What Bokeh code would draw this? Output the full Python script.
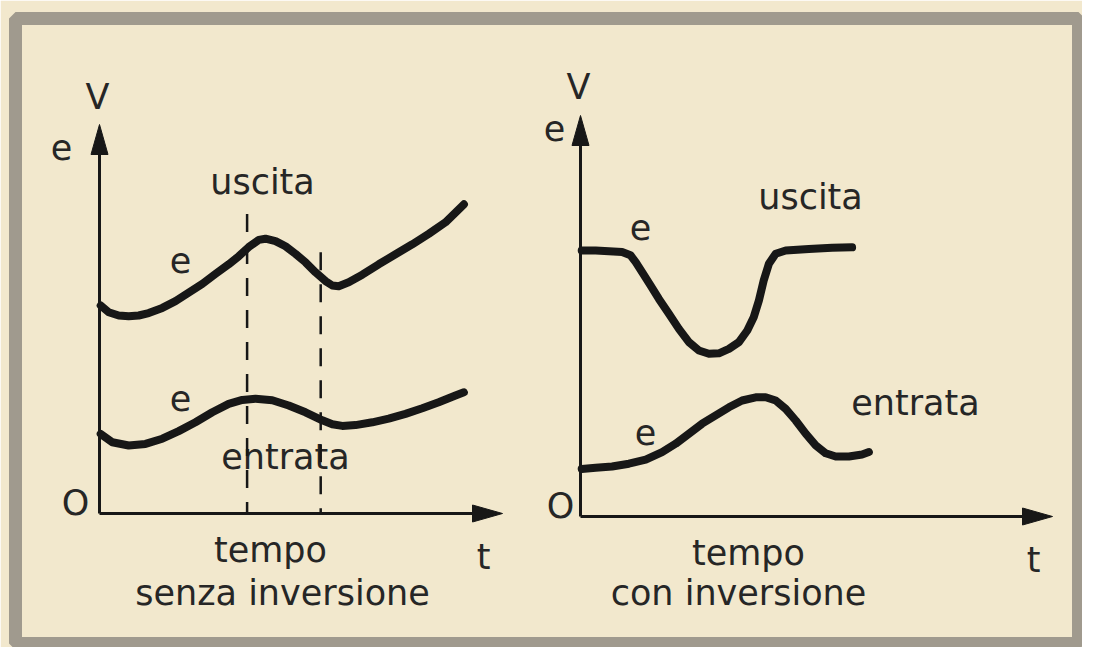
from bokeh.plotting import figure
from bokeh.models import Range1d, ColumnDataSource
from bokeh.core.properties import value
from bokeh.embed import file_html
from bokeh.resources import INLINE

# ---------------- data (panel units: t horizontal, V vertical) ----------------
# Left panel: "senza inversione"
L_USCITA_T = [0.03, 0.23, 0.48, 0.73, 0.98, 1.23, 1.57, 1.9, 2.23, 2.57, 2.9, 3.23, 3.48, 3.73,
              3.98, 4.15, 4.4, 4.65, 4.9, 5.15, 5.4, 5.65, 5.82, 5.98, 6.23, 6.57, 6.98, 7.4,
              7.82, 8.23, 8.65, 9.11]
L_USCITA_V = [5.2, 5.03, 4.95, 4.93, 4.95, 5.01, 5.14, 5.31, 5.52, 5.74, 5.99, 6.23, 6.43, 6.66,
              6.84, 6.87, 6.81, 6.68, 6.49, 6.28, 6.03, 5.81, 5.7, 5.68, 5.78, 5.97, 6.23, 6.48,
              6.73, 6.99, 7.28, 7.73]
L_ENTRATA_T = [0.03, 0.32, 0.73, 1.15, 1.57, 1.98, 2.4, 2.82, 3.23, 3.57, 3.9, 4.32, 4.73, 5.15,
               5.57, 5.82, 6.07, 6.4, 6.82, 7.23, 7.65, 8.07, 8.48, 8.9, 9.11]
L_ENTRATA_V = [1.99, 1.78, 1.7, 1.74, 1.87, 2.06, 2.28, 2.53, 2.74, 2.84, 2.87, 2.83, 2.7, 2.53,
               2.33, 2.23, 2.19, 2.21, 2.28, 2.37, 2.49, 2.63, 2.78, 2.95, 3.03]
L_MARK_T = [3.69, 5.53]        # dashed time markers
L_MARK_TOP = [7.49, 6.53]
L_AXIS_END_T = 10.075
L_AXIS_END_V = 9.725

# Right panel: "con inversione"
R_USCITA_T = [0.03, 0.38, 0.71, 1.04, 1.25, 1.38, 1.54, 1.75, 1.96, 2.21, 2.46, 2.71, 2.96, 3.21,
              3.46, 3.71, 3.96, 4.17, 4.33, 4.46, 4.58, 4.71, 4.88, 5.13, 5.71, 6.29, 6.79]
R_USCITA_V = [6.65, 6.65, 6.63, 6.61, 6.53, 6.36, 6.11, 5.78, 5.44, 5.07, 4.69, 4.36, 4.15, 4.07,
              4.08, 4.19, 4.36, 4.65, 4.98, 5.4, 5.9, 6.32, 6.57, 6.65, 6.69, 6.72, 6.73]
R_ENTRATA_T = [0.03, 0.38, 0.79, 1.21, 1.63, 2.04, 2.38, 2.71, 3.04, 3.38, 3.71, 4.04, 4.38, 4.63,
               4.88, 5.13, 5.38, 5.63, 5.88, 6.13, 6.38, 6.71, 7.04, 7.21]
R_ENTRATA_V = [1.19, 1.22, 1.25, 1.32, 1.42, 1.61, 1.82, 2.07, 2.32, 2.53, 2.73, 2.9, 2.98, 2.98,
               2.9, 2.69, 2.4, 2.07, 1.78, 1.58, 1.5, 1.5, 1.55, 1.61]
R_AXIS_END_T = 11.8
R_AXIS_END_V = 10.025

# Labels (x centre, text baseline)
L_LABEL_TEXT = ["V", "e", "O", "uscita", "e", "e", "entrata", "tempo", "senza inversione", "t"]
L_LABEL_T = [-0.05, -0.95, -0.6, 4.075, 2.025, 2.025, 4.65, 4.275, 4.575, 9.6]
L_LABEL_V = [10.15, 8.9, 0.0, 8.025, 6.075, 2.625, 1.15, -1.175, -2.25, -1.35]

R_LABEL_TEXT = ["V", "e", "O", "uscita", "e", "e", "entrata", "tempo", "con inversione", "t"]
R_LABEL_T = [-0.05, -0.65, -0.5, 5.75, 1.5, 1.625, 8.375, 4.2, 3.95, 11.325]
R_LABEL_V = [10.475, 9.45, 0.0, 7.725, 6.975, 1.85, 2.575, -1.175, -2.175, -1.35]

# ---------------- layout / style ----------------
BEIGE = "#f2e8cd"
GRAY = "#a09a8e"
INK = "#171717"
TEXT = "#262626"
FONT = value("DejaVu Sans")

W, H = 1082, 647
MB_L, MB_R, MB_T, MB_B = 15, 4, 18, 4
FRAME_W = W - MB_L - MB_R
FRAME_H = H - MB_T - MB_B
PX = 40.0  # pixels per unit
# origin of each panel in page pixels
L_ORIGIN_PX = (99, 513)
R_ORIGIN_PX = (580, 516)


def ranges(origin_px):
    ox, oy = origin_px[0] - MB_L, origin_px[1] - MB_T
    return (Range1d(-ox / PX, (FRAME_W - ox) / PX),
            Range1d(-(FRAME_H - oy) / PX, oy / PX))


lx, ly = ranges(L_ORIGIN_PX)
rx, ry = ranges(R_ORIGIN_PX)

p = figure(width=W, height=H, x_range=lx, y_range=ly,
           output_backend="svg", toolbar_location=None,
           x_axis_type=None, y_axis_type=None,
           min_border_left=MB_L, min_border_right=MB_R,
           min_border_top=MB_T, min_border_bottom=MB_B,
           background_fill_color=BEIGE, border_fill_color=BEIGE,
           outline_line_color=GRAY, outline_line_width=13)
p.grid.visible = False
p.extra_x_ranges = {"rx": rx}
p.extra_y_ranges = {"ry": ry}

HEAD_L = 30 / PX
HEAD_HW = 8.5 / PX


def draw_panel(rn, t_end, v_end, curves, labels):
    kw = {} if rn is None else dict(x_range_name="rx", y_range_name="ry")
    # axes
    p.segment(x0=[0, 0], y0=[0, 0], x1=[t_end - HEAD_L, 0], y1=[0, v_end - HEAD_L],
              line_color=INK, line_width=3, **kw)
    p.patches(xs=[[t_end - HEAD_L, t_end, t_end - HEAD_L], [-HEAD_HW, 0, HEAD_HW]],
              ys=[[-HEAD_HW, 0, HEAD_HW], [v_end - HEAD_L, v_end, v_end - HEAD_L]],
              fill_color=INK, line_color=INK, line_width=1, **kw)
    for xs, ys in curves:
        p.line(x=xs, y=ys, line_color=INK, line_width=8,
               line_cap="round", line_join="round", **kw)
    txt, tx, ty = labels
    src = ColumnDataSource(dict(x=tx, y=ty, text=txt))
    p.text(x="x", y="y", text="text", source=src, text_font=FONT,
           text_font_size="35px", text_align="center",
           text_baseline="alphabetic", y_offset=-11, text_color=TEXT, **kw)


draw_panel(None, L_AXIS_END_T, L_AXIS_END_V,
           [(L_USCITA_T, L_USCITA_V), (L_ENTRATA_T, L_ENTRATA_V)],
           (L_LABEL_TEXT, L_LABEL_T, L_LABEL_V))
p.segment(x0=L_MARK_T, y0=L_MARK_TOP, x1=L_MARK_T, y1=[0] * len(L_MARK_T),
          line_color=INK, line_width=2.5, line_dash="18 14")

draw_panel("r", R_AXIS_END_T, R_AXIS_END_V,
           [(R_USCITA_T, R_USCITA_V), (R_ENTRATA_T, R_ENTRATA_V)],
           (R_LABEL_TEXT, R_LABEL_T, R_LABEL_V))

open("out.html", "w").write(file_html(p, INLINE))
